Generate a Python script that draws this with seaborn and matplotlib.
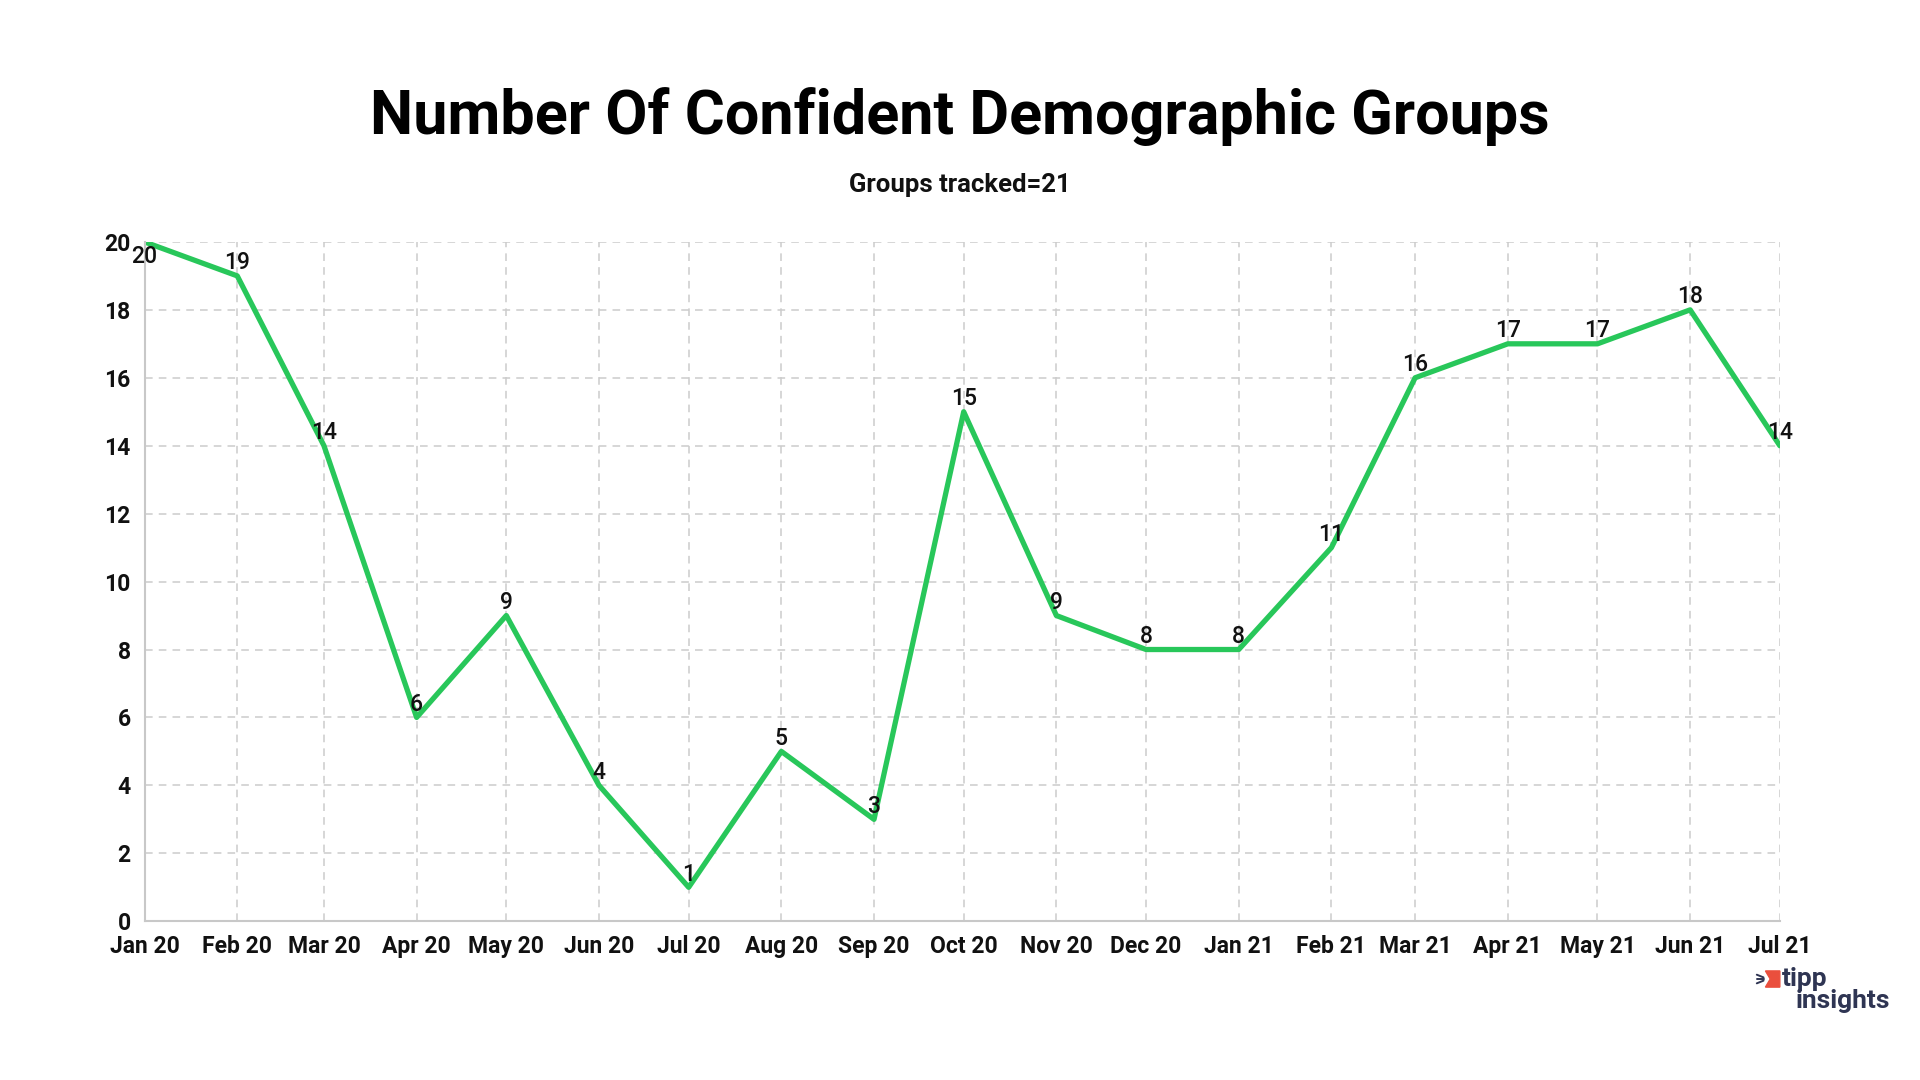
import pandas as pd
import seaborn as sns
from matplotlib import pyplot as plt
from matplotlib.patches import Polygon

months = pd.date_range("2020-01-01", "2021-07-01", freq="MS")
month_labels = ["Jan 20", "Feb 20", "Mar 20", "Apr 20", "May 20", "Jun 20", "Jul 20",
                "Aug 20", "Sep 20", "Oct 20", "Nov 20", "Dec 20", "Jan 21", "Feb 21",
                "Mar 21", "Apr 21", "May 21", "Jun 21", "Jul 21"]
confident_groups = [20, 19, 14, 6, 9, 4, 1, 5, 3, 15, 9, 8, 8, 11, 16, 17, 17, 18, 14]
y_ticks = list(range(0, 21, 2))

title = "Number Of Confident Demographic Groups"
subtitle = "Groups tracked=21"

df = pd.DataFrame({"month": months, "groups": confident_groups})

sns.set_style("white")
plt.rcParams["font.family"] = ["Roboto", "DejaVu Sans"]

fig = plt.figure(figsize=(19.2, 10.8), dpi=100)
ax = fig.add_axes([0.0753, 0.147, 0.8517, 0.629])

sns.lineplot(data=df, x="month", y="groups", ax=ax, color="#28c75a", linewidth=3.8)

# value labels just above each point; the top one goes inside the axes
for m, v in zip(df["month"], df["groups"]):
    if v >= max(y_ticks):
        ax.annotate(str(v), (m, v), xytext=(0, -2), textcoords="offset points",
                    ha="center", va="top", fontsize=16.5, fontweight="medium", color="#111111")
    else:
        ax.annotate(str(v), (m, v), xytext=(0, 1), textcoords="offset points",
                    ha="center", va="bottom", fontsize=16.5, fontweight="medium", color="#111111")

ax.set_xlim(months[0], months[-1])
ax.set_ylim(0, 20)
ax.set_xticks(months)
ax.set_xticklabels(month_labels)
ax.set_yticks(y_ticks)
ax.set_xlabel("")
ax.set_ylabel("")

ax.grid(True, color="#cccccc", linestyle=(0, (5, 4)), linewidth=1.1)
for side in ["top", "right"]:
    ax.spines[side].set_visible(False)
for side in ["left", "bottom"]:
    ax.spines[side].set_color("#c8c8c8")
    ax.spines[side].set_linewidth(1.5)
ax.tick_params(axis="both", length=6, width=1.1, color="#c8c8c8", labelsize=16.5, pad=4)
for lbl in ax.get_xticklabels() + ax.get_yticklabels():
    lbl.set_fontweight("bold")
    lbl.set_color("#111111")

fig.text(0.5, 0.892, title, ha="center", va="center", fontsize=44, fontweight="bold", color="#000000")
fig.text(0.5, 0.829, subtitle, ha="center", va="center", fontsize=18.5, fontweight="bold", color="#111111")

# tipp insights logo
fig.patches.append(Polygon([[0.9195, 0.0860], [0.9270, 0.0860], [0.9270, 0.1010], [0.9195, 0.1010], [0.9220, 0.0935]],
                           closed=True, transform=fig.transFigure, color="#ea4f3d"))
for y0, y1 in ((0.0975, 0.0950), (0.0935, 0.0935), (0.0895, 0.0920)):
    fig.lines.append(plt.Line2D([0.9150, 0.9185], [y0, y1],
                                transform=fig.transFigure, color="#2f3553", linewidth=1.4))
fig.text(0.9280, 0.0935, "tipp", ha="left", va="center", fontsize=19, fontweight="bold", color="#2f3553")
fig.text(0.9350, 0.0735, "insights", ha="left", va="center", fontsize=19, fontweight="bold", color="#2f3553")

fig.savefig("out.png", dpi=100, facecolor="white")
